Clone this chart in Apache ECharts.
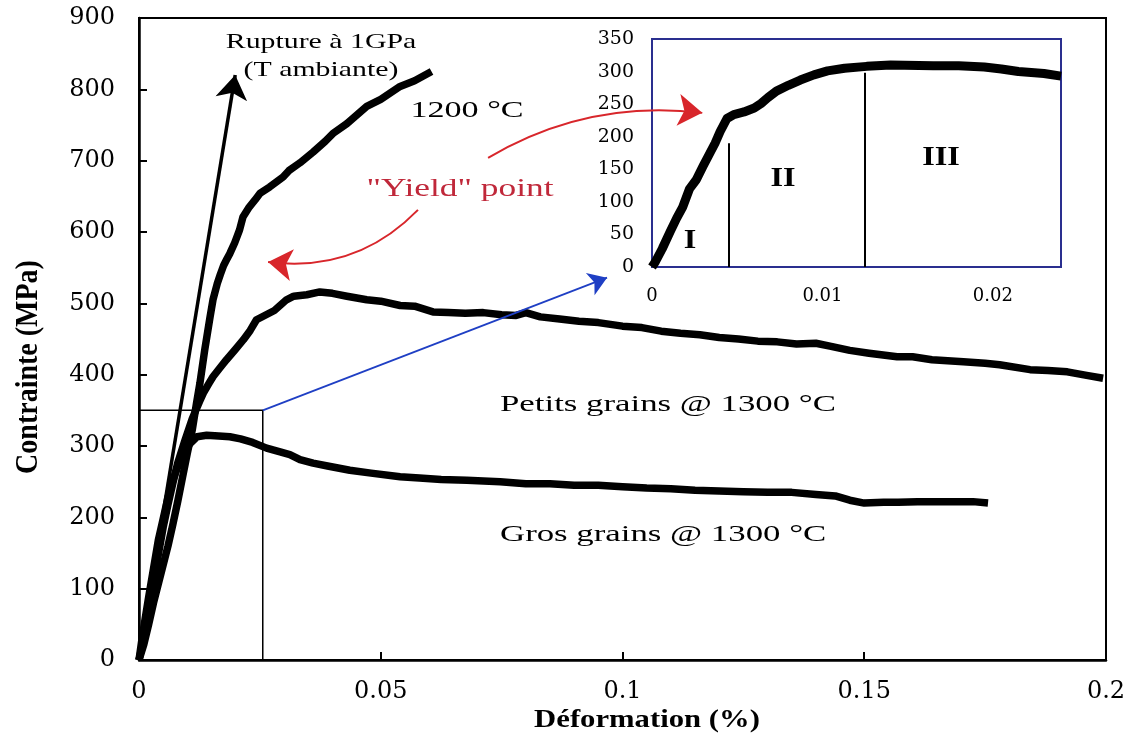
<!DOCTYPE html>
<html><head><meta charset="utf-8">
<script src="https://cdn.jsdelivr.net/npm/echarts@6/dist/echarts.min.js"></script>
<style>html,body{margin:0;padding:0;background:#fff}#c{width:1130px;height:743px}</style>
</head><body><div id="c"></div>
<script>
// ---- data (strain %, stress MPa) ----
const curve1200 = [[0,0],[0.001,22],[0.002,50],[0.003,80],[0.0045,120],[0.006,160],[0.007,190],[0.008,222],[0.009,256],[0.010,290],[0.011,322],[0.0119,360],[0.0126,388],[0.0136,435],[0.0147,481],[0.0153,505],[0.0162,528],[0.0168,540],[0.0175,553],[0.0181,561],[0.0188,570],[0.0198,585],[0.0208,603],[0.0215,621],[0.0228,635],[0.024,645],[0.025,654],[0.027,663],[0.0298,677],[0.031,686],[0.0333,697],[0.036,712],[0.0385,727],[0.0401,738],[0.043,752],[0.0471,776],[0.050,786],[0.054,804],[0.057,812],[0.0605,825]];
const petitsGrains = [[0,0],[0.001,30],[0.002,68],[0.003,108],[0.004,148],[0.005,186],[0.006,218],[0.007,248],[0.008,276],[0.0095,308],[0.011,338],[0.0125,362],[0.0133,374],[0.0145,388],[0.0153,397],[0.0168,410],[0.0181,421],[0.02,436],[0.0216,449],[0.023,462],[0.0243,477],[0.026,483],[0.028,490],[0.0305,505],[0.032,510],[0.0347,512],[0.0374,516],[0.040,514],[0.043,510],[0.0471,505],[0.050,503],[0.054,497],[0.057,496],[0.0608,488],[0.064,487],[0.0675,486],[0.0712,487],[0.075,484],[0.078,483],[0.08,487],[0.083,481],[0.087,478],[0.091,475],[0.095,473],[0.1,468],[0.104,466],[0.108,461],[0.112,458],[0.116,456],[0.12,452],[0.124,450],[0.128,447],[0.132,446],[0.136,443],[0.14,444],[0.1429,440],[0.147,434],[0.151,430],[0.1568,425],[0.16,425],[0.164,421],[0.1705,418],[0.175,416],[0.178,414],[0.1843,407],[0.188,406],[0.192,404],[0.196,399],[0.1994,395]];
const grosGrains = [[0,0],[0.0008,38],[0.002,88],[0.003,128],[0.004,168],[0.005,198],[0.006,228],[0.007,252],[0.0085,280],[0.0105,303],[0.012,313],[0.014,315],[0.0165,314],[0.0188,313],[0.021,310],[0.0235,305],[0.0264,297],[0.029,292],[0.0312,288],[0.0333,281],[0.036,276],[0.039,272],[0.0436,266],[0.048,262],[0.054,257],[0.058,255],[0.0625,253],[0.0678,252],[0.0747,250],[0.08,247],[0.085,247],[0.09,245],[0.095,245],[0.1,243],[0.105,241],[0.11,240],[0.115,238],[0.12,237],[0.125,236],[0.13,235],[0.135,235],[0.14,232],[0.144,230],[0.147,224],[0.15,220],[0.154,221],[0.157,221],[0.161,222],[0.165,222],[0.169,222],[0.1725,222],[0.1756,220]];
const insetCurve = [[0,0],[0.0002,8],[0.0006,28],[0.00106,54],[0.00145,75],[0.0018,92],[0.0022,120],[0.0026,134],[0.003,155],[0.0034,175],[0.0037,190],[0.004,208],[0.0044,228],[0.0048,234],[0.0054,238],[0.006,244],[0.0064,251],[0.0068,260],[0.0073,270],[0.008,279],[0.0087,287],[0.0095,295],[0.0103,301],[0.0113,305],[0.0126,308],[0.014,310],[0.0165,309],[0.018,309],[0.0195,307],[0.0205,304],[0.0215,300],[0.023,297],[0.024,293]];
// region boundaries in the inset (strain, top stress)
const insetDividers = [[0.0045,190],[0.0125,298]];
// annotation arrows (data coordinates of the main chart)
const ruptureArrow = [[0,0],[0.0199,820]];
const zoomBox = [[0,350],[0.0256,350],[0.0256,0]];
const blueArrow = [[0.0256,350],[0.0968,536]];
const redArrowToInset = [[0.0722,704],[0.1165,767]];
const redArrowToMain = [[0.0577,631],[0.0267,558]];
// ticks
const xTicks = [0,0.05,0.1,0.15,0.2];
const yTicks = [0,100,200,300,400,500,600,700,800,900];
const insetXTicks = [0,0.01,0.02];
const insetYTicks = [0,50,100,150,200,250,300,350];
const insetXMax = 0.024;

const SERIF = 'Liberation Serif';
const TICKF = 'DejaVu Serif';
const BLUE = '#2a2f8f';
const RED = '#d8262b';
const SX = 1.42;

const chart = echarts.init(document.getElementById('c'), null, {renderer:'canvas'});
function txt(text, x, y, size, opts) {
  opts = opts || {};
  return {type:'text', x:x, y:y, scaleX: opts.sx || SX, scaleY: opts.sy || 1, rotation: opts.rot || 0, z: 100,
    style:{text:text, fontFamily:SERIF, fontSize:size, fontWeight: opts.bold ? 'bold':'normal',
      fill: opts.color || '#000', align: opts.align || 'center', verticalAlign:'middle',
      textAlign: opts.align || 'center', textVerticalAlign:'middle'}};
}
const near = (v, arr) => arr.some(t => Math.abs(t - v) < 1e-9);

chart.setOption({
  animation:false,
  backgroundColor:'#fff',
  grid:[
    {left:139, top:18, right:24, bottom:83, show:true, borderColor:'#000', borderWidth:2, backgroundColor:'transparent'},
    {left:652, top:39, right:69, bottom:476, show:true, borderColor:BLUE, borderWidth:2, backgroundColor:'#fff', z:3}
  ],
  xAxis:[
    {type:'value', gridIndex:0, min:xTicks[0], max:xTicks[xTicks.length-1], interval:0.05,
     axisLine:{show:true, lineStyle:{color:'#000', width:2.5}},
     axisTick:{show:true, inside:true, length:8, lineStyle:{color:'#000', width:2}},
     splitLine:{show:false},
     axisLabel:{margin:20, color:'#000', fontFamily:TICKF, fontSize:24,
       formatter: v => near(v, xTicks) ? String(v) : ''}},
    {type:'value', gridIndex:1, min:insetXTicks[0], max:insetXMax, interval:0.01,
     axisLine:{show:true, lineStyle:{color:BLUE, width:2}},
     axisTick:{show:true, inside:true, length:6, lineStyle:{color:'#000', width:2}},
     splitLine:{show:false},
     axisLabel:{margin:20, color:'#000', fontFamily:TICKF, fontSize:18, showMaxLabel:false,
       formatter: v => near(v, insetXTicks) ? String(v) : ''}}
  ],
  yAxis:[
    {type:'value', gridIndex:0, min:yTicks[0], max:yTicks[yTicks.length-1], interval:100,
     axisLine:{show:true, lineStyle:{color:'#000', width:2.5}},
     axisTick:{show:true, inside:true, length:8, lineStyle:{color:'#000', width:2}},
     splitLine:{show:false},
     axisLabel:{margin:24, color:'#000', fontFamily:TICKF, fontSize:24}},
    {type:'value', gridIndex:1, min:insetYTicks[0], max:insetYTicks[insetYTicks.length-1], interval:50,
     axisLine:{show:true, lineStyle:{color:BLUE, width:2}},
     axisTick:{show:true, inside:true, length:6, lineStyle:{color:'#000', width:2}},
     splitLine:{show:false},
     axisLabel:{margin:18, color:'#000', fontFamily:TICKF, fontSize:19}}
  ],
  series:[
    {type:'line', name:'1200 °C', xAxisIndex:0, yAxisIndex:0, data:curve1200, showSymbol:false, symbol:'none',
     lineStyle:{color:'#000', width:7.5, join:'round'}, z:5},
    {type:'line', name:'Petits grains @ 1300 °C', xAxisIndex:0, yAxisIndex:0, data:petitsGrains, showSymbol:false, symbol:'none',
     lineStyle:{color:'#000', width:7.5, join:'round'}, z:5},
    {type:'line', name:'Gros grains @ 1300 °C', xAxisIndex:0, yAxisIndex:0, data:grosGrains, showSymbol:false, symbol:'none',
     lineStyle:{color:'#000', width:7.5, join:'round'}, z:5},
    {type:'line', name:'inset', xAxisIndex:1, yAxisIndex:1, data:insetCurve, showSymbol:false, symbol:'none',
     lineStyle:{color:'#000', width:9, join:'round'}, z:6},
    {type:'lines', coordinateSystem:'cartesian2d', xAxisIndex:1, yAxisIndex:1, z:6,
     data: insetDividers.map(d => ({coords:[[d[0],0],[d[0],d[1]]]})),
     lineStyle:{color:'#000', width:2, opacity:1}, symbol:['none','none']},
    {type:'lines', coordinateSystem:'cartesian2d', xAxisIndex:0, yAxisIndex:0, z:7,
     data:[{coords:ruptureArrow}], symbol:['none','arrow'], symbolSize:[0,24],
     lineStyle:{color:'#000', width:3.5, opacity:1}},
    {type:'lines', coordinateSystem:'cartesian2d', xAxisIndex:0, yAxisIndex:0, polyline:true, z:4,
     data:[{coords:zoomBox}], lineStyle:{color:'#000', width:1.5, opacity:1}},
    {type:'lines', coordinateSystem:'cartesian2d', xAxisIndex:0, yAxisIndex:0, z:7,
     data:[{coords:blueArrow}], symbol:['none','arrow'], symbolSize:[0,18],
     lineStyle:{color:'#1f3fc4', width:1.8, opacity:1}},
    {type:'lines', coordinateSystem:'cartesian2d', xAxisIndex:0, yAxisIndex:0, z:8,
     data:[{coords:redArrowToInset, lineStyle:{curveness:0.17}}, {coords:redArrowToMain, lineStyle:{curveness:0.25}}],
     symbol:['none','arrow'], symbolSize:[0,24],
     lineStyle:{color:RED, width:2, opacity:1}}
  ],
  graphic:[
    txt('Rupture à 1GPa', 321, 42, 21),
    txt('(T ambiante)', 321, 70, 21),
    txt('1200 °C', 467, 111, 24),
    txt('"Yield" point', 460, 189, 26, {color:'#c0283a', sx:1.36}),
    txt('Petits grains @ 1300 °C', 500, 405, 24, {align:'left', sx:1.45}),
    txt('Gros grains @ 1300 °C', 500, 535, 24, {align:'left', sx:1.45}),
    txt('I', 690, 241, 28, {bold:true, sx:1.15}),
    txt('II', 783, 179, 28, {bold:true, sx:1.15}),
    txt('III', 941, 158, 28, {bold:true, sx:1.15}),
    txt('Déformation (%)', 647, 720, 26, {bold:true, sx:1.18}),
    txt('Contrainte (MPa)', 29, 367, 28, {bold:true, sx:1, sy:1.15, rot:Math.PI/2})
  ]
});
</script></body></html>
